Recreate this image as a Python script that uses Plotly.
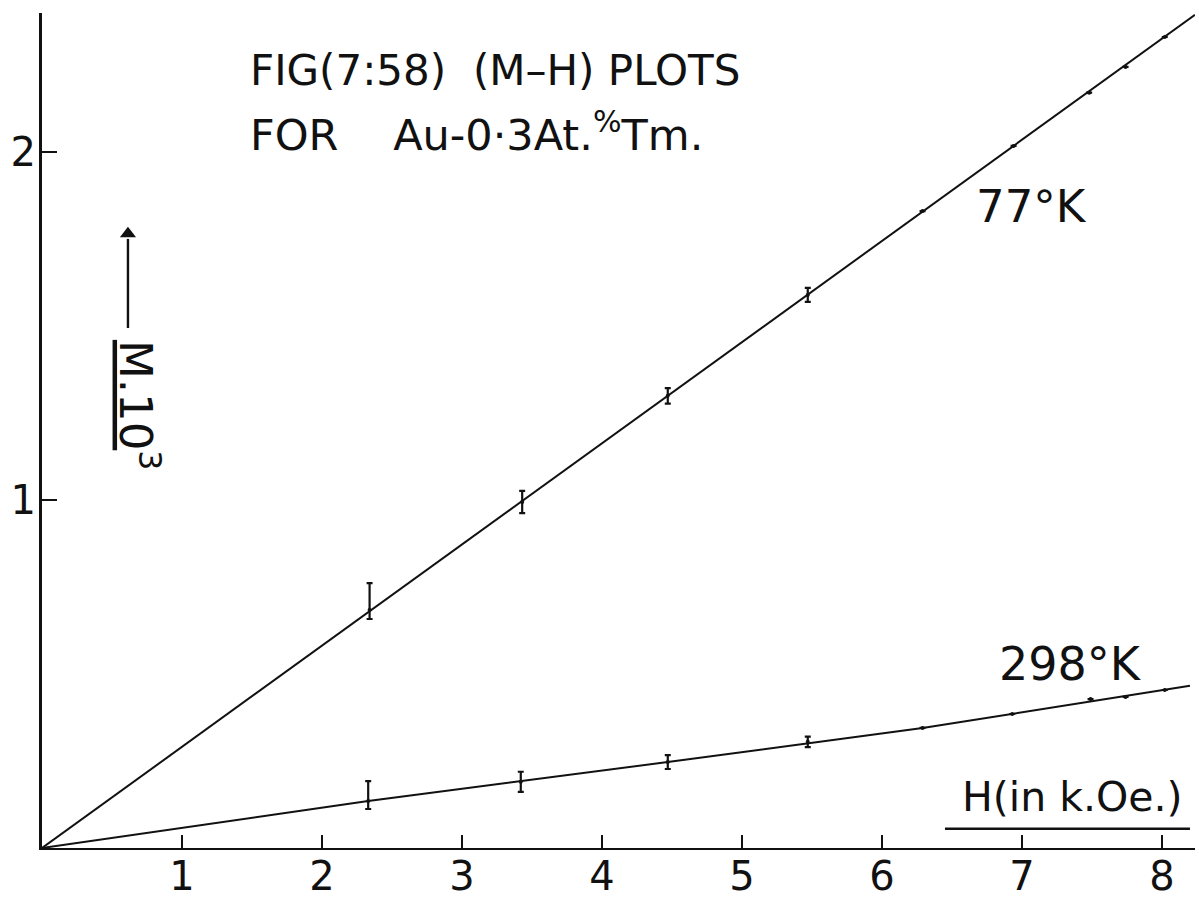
import plotly.graph_objects as go

# Field H (kOe) and magnetisation M (x10^3) readings
h_77 = [2.34, 3.43, 4.47, 5.47, 6.29, 6.94, 7.48, 7.74, 8.02]
m_77 = [0.684, 0.994, 1.299, 1.589, 1.830, 2.017, 2.170, 2.244, 2.330]
err_up_77 = [0.077, 0.032, 0.022, 0.020, 0, 0, 0, 0, 0]
err_dn_77 = [0.026, 0.032, 0.022, 0.020, 0, 0, 0, 0, 0]

h_298 = [2.33, 3.42, 4.47, 5.47, 6.29, 6.93, 7.49, 7.74, 8.02]
m_298 = [0.135, 0.190, 0.247, 0.305, 0.345, 0.385, 0.428, 0.434, 0.454]
err_up_298 = [0.057, 0.029, 0.020, 0.015, 0, 0, 0, 0, 0]
err_dn_298 = [0.023, 0.029, 0.020, 0.015, 0, 0, 0, 0, 0]

# Hand-drawn lines through the readings
line_77_h = [0, 8.236]
line_77_m = [0, 2.394]
line_298_h = [0, 2.33, 4.47, 6.29, 8.2]
line_298_m = [0, 0.135, 0.247, 0.345, 0.466]

x_ticks = [1, 2, 3, 4, 5, 6, 7, 8]
y_ticks = [1, 2]

INK = "#111111"
FONT = "DejaVu Sans"

fig = go.Figure()

for lh, lm in [(line_77_h, line_77_m), (line_298_h, line_298_m)]:
    fig.add_trace(go.Scatter(x=lh, y=lm, mode="lines",
                             line=dict(color=INK, width=2),
                             hoverinfo="skip", showlegend=False))

for h, m, up, dn in [(h_77, m_77, err_up_77, err_dn_77),
                     (h_298, m_298, err_up_298, err_dn_298)]:
    fig.add_trace(go.Scatter(
        x=h, y=m, mode="markers",
        marker=dict(color=INK, size=4),
        error_y=dict(type="data", symmetric=False, array=up, arrayminus=dn,
                     color=INK, thickness=2.2, width=3),
        showlegend=False))

# Upward arrow beside the M axis label
fig.add_trace(go.Scatter(
    x=[0.614, 0.614], y=[1.494, 1.75], mode="lines",
    line=dict(color=INK, width=2.4),
    hoverinfo="skip", showlegend=False))
fig.add_trace(go.Scatter(
    x=[0.614], y=[1.765], mode="markers",
    marker=dict(symbol="triangle-up", size=14, color=INK,
                line=dict(width=0)),
    hoverinfo="skip", showlegend=False))

def txt(size):
    return dict(family=FONT, size=size, color=INK)

nb = "\u00a0"
annotations = [
    dict(x=1.47, y=2.233, text=f"FIG(7:58){nb*2}(M\u2013H) PLOTS",
         xanchor="left", yanchor="middle", showarrow=False, font=txt(42)),
    dict(x=1.47, y=2.058,
         text=f"FOR{nb*4}Au-0\u00b73At.<sup>%</sup>Tm.",
         xanchor="left", yanchor="middle", showarrow=False, font=txt(43)),
    dict(x=6.66, y=1.842, text="77\u00b0K", xanchor="left", yanchor="middle",
         showarrow=False, font=txt(45)),
    dict(x=6.82, y=0.530, text="298\u00b0K", xanchor="left", yanchor="middle",
         showarrow=False, font=txt(46)),
    dict(x=6.56, y=0.147, text="H(in k.Oe.)", xanchor="left", yanchor="middle",
         showarrow=False, font=txt(41)),
    dict(x=0.686, y=1.273, text="<u>M.10</u><sup>3</sup>", textangle=90,
         xanchor="center", yanchor="middle", showarrow=False, font=txt(45)),
]

fig.add_shape(type="line", x0=6.45, x1=8.2, y0=0.055, y1=0.055,
              line=dict(color=INK, width=2.5))

axis_common = dict(ticks="inside", tickwidth=2, tickcolor=INK,
                   showline=True, linecolor=INK, showgrid=False,
                   zeroline=False, automargin=False,
                   tickfont=txt(40))

fig.update_layout(
    width=1199, height=903,
    margin=dict(l=42, r=4, t=13, b=55),
    paper_bgcolor="white", plot_bgcolor="white",
    annotations=annotations,
    xaxis=dict(range=[0, 8.236], tickvals=x_ticks, ticklen=13, linewidth=2,
               ticklabelstandoff=-8, **axis_common),
    yaxis=dict(range=[0, 2.399], tickvals=y_ticks, ticklen=15, linewidth=3,
               ticklabelstandoff=-5, **axis_common),
)

fig.write_html("out.html")
